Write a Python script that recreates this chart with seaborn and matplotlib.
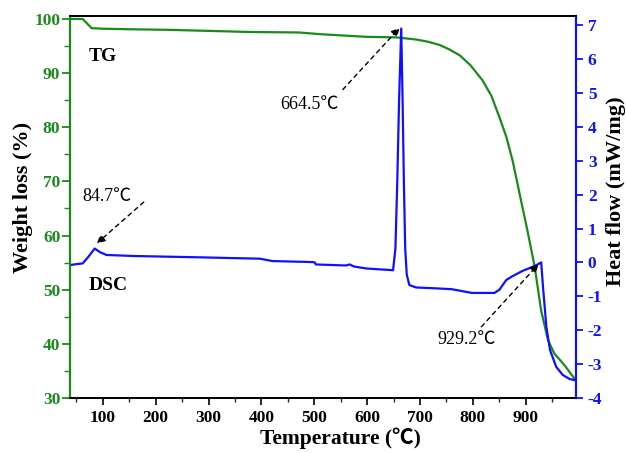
import matplotlib
matplotlib.use("Agg")
import matplotlib.pyplot as plt
from matplotlib.ticker import MultipleLocator
import pandas as pd
import seaborn as sns

# Thermogravimetric (TG) curve: temperature (°C) and remaining weight (%)
tg_temp = [38, 50, 62, 70, 79, 100, 150, 221, 300, 378, 472, 510, 599, 656,
           693, 715, 737, 755, 775, 795, 818, 835, 850, 863, 875, 891, 903,
           917, 929, 942, 954, 965, 976, 992, 995]
tg_weight = [100.0, 100.0, 100.0, 99.2, 98.3, 98.2, 98.1, 98.0, 97.8, 97.6, 97.5,
             97.2, 96.7, 96.6, 96.2, 95.8, 95.2, 94.4, 93.3, 91.5, 88.7, 85.8,
             81.9, 78.3, 73.9, 66.5, 61.0, 54.2, 46.2, 40.7, 38.2, 37.0, 35.7,
             33.6, 33.2]

# Differential scanning calorimetry (DSC) curve: temperature (°C) and heat flow (mW/mg)
dsc_temp = [38, 50, 62, 72, 84.7, 95, 107, 157, 283, 397, 421, 497, 501, 503,
            540, 560, 567, 575, 599, 639, 649, 653.5, 657, 660.5, 664.5, 667,
            669.5, 672, 675, 680, 693, 724, 760, 798, 813, 841, 850.5, 863,
            875.6, 894, 913, 920, 929.2, 932.6, 939, 946, 957.6, 970, 983, 995]
dsc_flow = [-0.08, -0.05, -0.03, 0.15, 0.41, 0.30, 0.22, 0.19, 0.15, 0.11, 0.04,
            0.01, 0.00, -0.06, -0.08, -0.09, -0.06, -0.12, -0.18, -0.22, -0.23,
            0.41, 2.38, 4.84, 6.9, 4.84, 2.38, 0.41, -0.37, -0.67, -0.74, -0.76,
            -0.79, -0.9, -0.9, -0.9, -0.8, -0.52, -0.40, -0.25, -0.13, -0.08,
            0.0, -0.72, -1.9, -2.59, -3.08, -3.32, -3.44, -3.48]

# Annotated peak temperatures
peak_labels = ["84.7℃", "664.5℃", "929.2℃"]
peak_temps = [84.7, 664.5, 929.2]

tg = pd.DataFrame({"Temperature": tg_temp, "Weight": tg_weight})
dsc = pd.DataFrame({"Temperature": dsc_temp, "HeatFlow": dsc_flow})

sns.set_style("ticks")
plt.rcParams["font.family"] = ["Liberation Serif", "Noto Sans CJK SC"]
plt.rcParams["axes.unicode_minus"] = False
plt.rcParams["text.color"] = "black"
plt.rcParams["axes.labelcolor"] = "black"

GREEN = "#1a8a1a"
BLUE = "#1010ff"

fig = plt.figure(figsize=(6.26, 4.53), dpi=100)
ax = fig.add_axes([0.1118, 0.1214, 0.8083, 0.8433])
ax2 = ax.twinx()

sns.lineplot(data=tg, x="Temperature", y="Weight", ax=ax, color=GREEN, lw=1.6)
sns.lineplot(data=dsc, x="Temperature", y="HeatFlow", ax=ax2, color=BLUE, lw=1.6)

ax.set_xlim(38, 995)
ax.set_ylim(30, 100.55)
ax2.set_ylim(-4, 7.27)

ax.xaxis.set_major_locator(MultipleLocator(100))
ax.xaxis.set_minor_locator(MultipleLocator(50))
ax.yaxis.set_major_locator(MultipleLocator(10))
ax.yaxis.set_minor_locator(MultipleLocator(5))
ax2.yaxis.set_major_locator(MultipleLocator(1))

# spines: left green, right blue, top/bottom black
for a in (ax, ax2):
    a.spines["top"].set_color("black")
    a.spines["bottom"].set_color("black")
    a.spines["left"].set_color(GREEN)
    a.spines["right"].set_color(BLUE)
    for s in a.spines.values():
        s.set_linewidth(1.3)
ax.spines["left"].set_linewidth(1.6)
ax2.spines["right"].set_linewidth(1.6)

ax.tick_params(axis="x", which="major", direction="out", length=5, width=1.2,
               colors="black", labelsize=12.5)
ax.tick_params(axis="x", which="minor", direction="out", length=3, width=1.0)
ax.tick_params(axis="y", which="major", direction="out", length=6, width=1.3,
               colors=GREEN, labelsize=12.5, pad=1)
ax.tick_params(axis="y", which="minor", direction="out", length=4, width=1.0,
               colors=GREEN)
ax2.tick_params(axis="y", which="major", direction="out", length=5, width=1.3,
                colors=BLUE, labelsize=12.5)
for lab in ax.get_xticklabels() + ax.get_yticklabels() + ax2.get_yticklabels():
    lab.set_fontweight("bold")

ax.set_xlabel("Temperature (℃)", fontsize=15.5, fontweight="bold")
ax.xaxis.set_label_coords(0.534, -0.078)
ax.set_ylabel("Weight loss (%)", fontsize=16, fontweight="bold")
ax.yaxis.set_label_coords(-0.073, 0.526)
ax2.set_ylabel("Heat flow (mW/mg)", fontsize=16, fontweight="bold")
ax2.yaxis.set_label_coords(1.059, 0.541)

# curve names
ax.text(100, 93, "TG", fontsize=14, fontweight="bold", ha="center", va="center")
ax.text(111, 50.8, "DSC", fontsize=14, fontweight="bold", ha="center", va="center")

# peak labels
ax2.text(107.6, 1.93, peak_labels[0], fontsize=13, ha="center", va="center")
ax2.text(491, 4.67, peak_labels[1], fontsize=13, ha="center", va="center")
ax2.text(788, -2.26, peak_labels[2], fontsize=13, ha="center", va="center")

# dashed arrows pointing at the peaks
arrow = dict(arrowstyle="-|>", linestyle=(0, (3, 3)), color="black", lw=1.0,
             mutation_scale=12, shrinkA=0, shrinkB=0)
ax2.annotate("", xy=(peak_temps[0] + 4, 0.56), xytext=(177.5, 1.78),
             arrowprops=arrow)
ax2.annotate("", xy=(peak_temps[1] - 3, 6.92), xytext=(554, 5.1),
             arrowprops=arrow)
ax2.annotate("", xy=(peak_temps[2] - 5, -0.05), xytext=(816, -1.9),
             arrowprops=arrow)

fig.savefig("out.png", dpi=100)
